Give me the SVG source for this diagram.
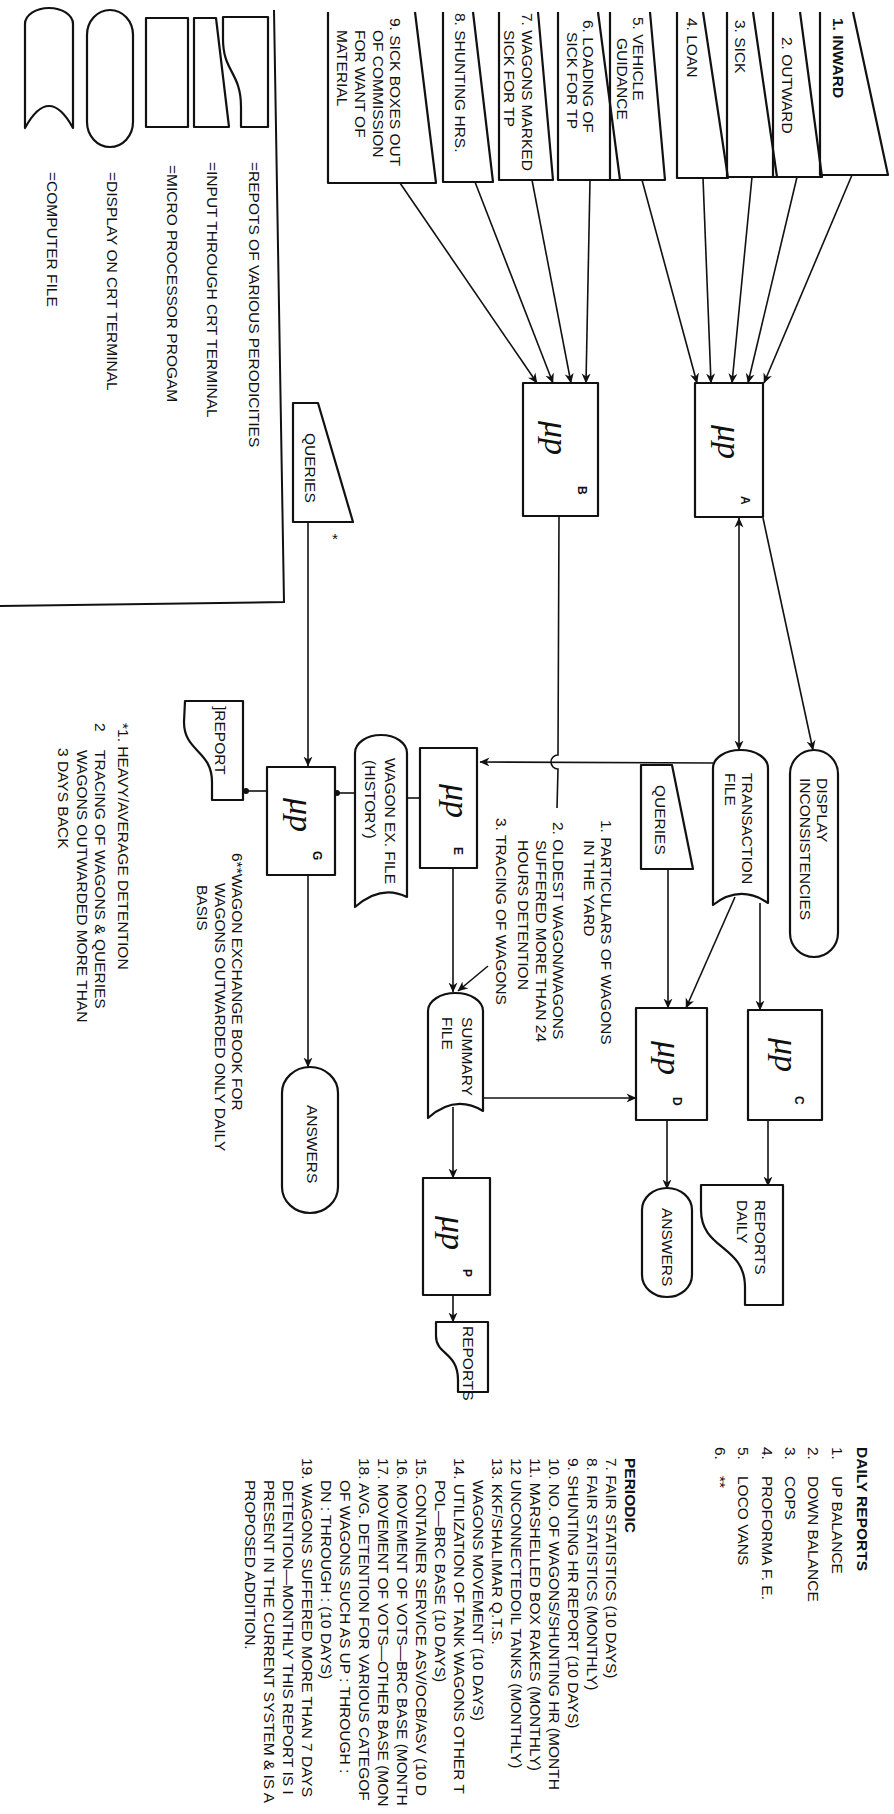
<svg xmlns="http://www.w3.org/2000/svg" width="894" height="1814" viewBox="0 0 894 1814">
<defs>
<style>
.s{fill:#fff;stroke:#111;stroke-width:2.2;stroke-linejoin:round}
.o{fill:none;stroke:#111;stroke-width:2.2;stroke-linejoin:round}
.c{fill:none;stroke:#111;stroke-width:1.6}
.t{font-family:"Liberation Sans",Arial,sans-serif;font-size:15.5px;fill:#111}
.p{font-family:"Liberation Sans",Arial,sans-serif;font-size:15.5px;fill:#111}
.b{font-weight:bold}
.mu{font-family:"Liberation Serif","Times New Roman",serif;font-style:italic;font-size:34px;fill:#111}
.l{font-family:"Liberation Sans",Arial,sans-serif;font-size:12px;font-weight:bold;fill:#111}
</style>
<marker id="ar" viewBox="0 0 10 10" refX="9.5" refY="5" markerWidth="10" markerHeight="10" orient="auto-start-reverse" markerUnits="userSpaceOnUse"><path d="M0,0.5 L10,5 L0,9.5 L3,5 Z" fill="#111"/></marker>
</defs>
<rect width="894" height="1814" fill="#fff"/>

<g id="legend">
<path class="c" d="M274,10 L284,602 L0,606" style="stroke-width:2"/>
<path class="s" d="M223,17 L268,17 L268,127 L241,127 L241,107 C241,72 223,72 223,39 Z"/>
<path class="s" d="M194,18 L216,18 L229,127 L194,127 Z"/>
<rect class="s" x="146" y="18" width="42" height="109"/>
<path class="s" d="M87,35 A23,25 0 0 1 133,35 L133,122 A23,25 0 0 1 87,122 Z"/>
<path class="s" d="M25,128 L25,24 A24,16 0 0 1 73,24 L73,128 Q49,84 25,128 Z"/>
<text class="t" transform="translate(249 162) rotate(90)">=REPOTS OF VARIOUS PERODICITIES</text>
<text class="t" transform="translate(207 162) rotate(90)">=INPUT THROUGH CRT TERMINAL</text>
<text class="t" transform="translate(167 165) rotate(90)">=MICRO PROCESSOR PROGAM</text>
<text class="t" transform="translate(107 172) rotate(90)">=DISPLAY ON CRT TERMINAL</text>
<text class="t" transform="translate(47 172) rotate(90)">=COMPUTER FILE</text>
</g>

<g id="in1"><path class="o" d="M820,12 L820,175 L888,175 L853,12"/><text class="t b" transform="translate(833 18) rotate(90)">1. INWARD</text></g>
<g id="in2"><path class="o" d="M773,12 L773,177 L822,177 L800,12"/><text class="t" transform="translate(782 37) rotate(90)">2. OUTWARD</text></g>
<g id="in3"><path class="o" d="M727,12 L727,177 L777,177 L753,12"/><text class="t" transform="translate(735 20) rotate(90)">3. SICK</text></g>
<g id="in4"><path class="o" d="M677,12 L677,178 L728,178 L703,12"/><text class="t" transform="translate(687 18) rotate(90)">4. LOAN</text></g>
<g id="in5"><path class="o" d="M610,12 L610,180 L665,180 L650,12"/><text class="t" transform="translate(633 17) rotate(90)">5. VEHICLE</text><text class="t" transform="translate(617 38) rotate(90)">GUIDANCE</text></g>
<g id="in6"><path class="o" d="M558,12 L558,180 L620,180 L598,12"/><text class="t" transform="translate(583 20) rotate(90)">6. LOADING OF</text><text class="t" transform="translate(567 32) rotate(90)">SICK FOR TP</text></g>
<g id="in7"><path class="o" d="M499,12 L499,180 L553,180 L538,12"/><text class="t" transform="translate(522 13) rotate(90)">7. WAGONS MARKED</text><text class="t" transform="translate(504 30) rotate(90)">SICK FOR TP</text></g>
<g id="in8"><path class="o" d="M443,12 L443,182 L493,182 L473,12"/><text class="t" transform="translate(455 13) rotate(90)">8. SHUNTING HRS.</text></g>
<g id="in9"><path class="o" d="M328,12 L328,183 L436,183 L415,12"/><text class="t" transform="translate(390 18) rotate(90)">9. SICK BOXES OUT</text><text class="t" transform="translate(373 30) rotate(90)">OF COMMISSION</text><text class="t" transform="translate(355 30) rotate(90)">FOR WANT OF</text><text class="t" transform="translate(337 30) rotate(90)">MATERIAL</text></g>

<g id="connectors">
<line class="c" x1="852" y1="175" x2="764" y2="383" marker-end="url(#ar)"/>
<line class="c" x1="797" y1="177" x2="748" y2="383" marker-end="url(#ar)"/>
<line class="c" x1="752" y1="177" x2="732" y2="383" marker-end="url(#ar)"/>
<line class="c" x1="703" y1="178" x2="711" y2="383" marker-end="url(#ar)"/>
<line class="c" x1="642" y1="180" x2="697" y2="383" marker-end="url(#ar)"/>
<line class="c" x1="590" y1="180" x2="586" y2="383" marker-end="url(#ar)"/>
<line class="c" x1="532" y1="180" x2="571" y2="383" marker-end="url(#ar)"/>
<line class="c" x1="475" y1="182" x2="553" y2="383" marker-end="url(#ar)"/>
<line class="c" x1="400" y1="183" x2="537" y2="383" marker-end="url(#ar)"/>
<line class="c" x1="739" y1="518" x2="739" y2="750" marker-start="url(#ar)" marker-end="url(#ar)"/>
<line class="c" x1="763" y1="518" x2="813" y2="750" marker-end="url(#ar)"/>
<path class="c" d="M713,763 L480,762" marker-end="url(#ar)"/>
<path class="c" d="M559,516 L558,755 A7,7 0 0 0 558,769 L557,808"/>
<line class="c" x1="453" y1="868" x2="453" y2="992" marker-end="url(#ar)"/>
<line class="c" x1="407" y1="798" x2="420" y2="798"/>
<line class="c" x1="336" y1="793" x2="355" y2="793"/>
<circle cx="337" cy="793" r="3" fill="#111"/>
<line class="c" x1="245" y1="791" x2="267" y2="791"/>
<circle cx="246" cy="791" r="3" fill="#111"/>
<line class="c" x1="308" y1="523" x2="308" y2="766" marker-end="url(#ar)"/>
<line class="c" x1="308" y1="875" x2="308" y2="1067" marker-end="url(#ar)"/>
<line class="c" x1="735" y1="897" x2="686" y2="1008" marker-end="url(#ar)"/>
<line class="c" x1="760" y1="903" x2="760" y2="1010" marker-end="url(#ar)"/>
<line class="c" x1="668" y1="869" x2="668" y2="1008" marker-end="url(#ar)"/>
<line class="c" x1="768" y1="1120" x2="768" y2="1186" marker-end="url(#ar)"/>
<line class="c" x1="667" y1="1120" x2="667" y2="1189" marker-end="url(#ar)"/>
<line class="c" x1="483" y1="1098" x2="636" y2="1098" marker-end="url(#ar)"/>
<line class="c" x1="453" y1="1107" x2="453" y2="1178" marker-end="url(#ar)"/>
<line class="c" x1="488" y1="966" x2="458" y2="991" marker-end="url(#ar)"/>
<line class="c" x1="453" y1="1295" x2="453" y2="1322" marker-end="url(#ar)"/>
</g>

<g id="procA"><rect class="s" x="695" y="383" width="68" height="134"/><text class="mu" text-anchor="middle" transform="translate(718 442) rotate(90)">μp</text><text class="l" transform="translate(741 496) rotate(90)">A</text></g>
<g id="procB"><rect class="s" x="523" y="383" width="75" height="133"/><text class="mu" text-anchor="middle" transform="translate(545 438) rotate(90)">μp</text><text class="l" transform="translate(578 486) rotate(90)">B</text></g>
<g id="procC"><rect class="s" x="748" y="1010" width="74" height="110"/><text class="mu" text-anchor="middle" transform="translate(775 1055) rotate(90)">μp</text><text class="l" transform="translate(795 1096) rotate(90)">C</text></g>
<g id="procD"><rect class="s" x="636" y="1008" width="71" height="112"/><text class="mu" text-anchor="middle" transform="translate(658 1058) rotate(90)">μp</text><text class="l" transform="translate(673 1097) rotate(90)">D</text></g>
<g id="procE"><rect class="s" x="420" y="748" width="57" height="120"/><text class="mu" text-anchor="middle" transform="translate(446 801) rotate(90)">μp</text><text class="l" transform="translate(454 847) rotate(90)">E</text></g>
<g id="procG"><rect class="s" x="267" y="767" width="68" height="108"/><text class="mu" text-anchor="middle" transform="translate(290 815) rotate(90)">μp</text><text class="l" transform="translate(313 851) rotate(90)">G</text></g>
<g id="procP"><rect class="s" x="423" y="1178" width="67" height="117"/><text class="mu" text-anchor="middle" transform="translate(442 1233) rotate(90)">μp</text><text class="l" transform="translate(463 1269) rotate(90)">P</text></g>

<g id="transFile"><path class="s" d="M713,905 L713,768 A27.5,18 0 0 1 768,768 L768,903 Q740,884 713,905 Z"/><text class="t" transform="translate(742 773) rotate(90)">TRANSACTION</text><text class="t" transform="translate(725 773) rotate(90)">FILE</text></g>
<g id="displayInc"><path class="s" d="M790,774 A24,24 0 0 1 838,774 L838,933 A24,24 0 0 1 790,933 Z"/><text class="t" transform="translate(817 778) rotate(90)">DISPLAY</text><text class="t" transform="translate(800 778) rotate(90)">INCONSISTENCIES</text></g>
<g id="queriesTF"><path class="s" d="M641,765 L672,765 L693,869 L641,869 Z"/><text class="t" transform="translate(655 785) rotate(90)">QUERIES</text></g>
<g id="queriesG"><path class="s" d="M293,403 L318,403 L353,522 L293,522 Z"/><text class="t" transform="translate(305 433) rotate(90)">QUERIES</text><text class="t" x="332" y="544">*</text></g>
<g id="summaryFile"><path class="s" d="M428,1118 L428,1011 A27.5,18 0 0 1 483,1011 L483,1111 Q455,1094 428,1118 Z"/><text class="t" transform="translate(462 1017) rotate(90)">SUMMARY</text><text class="t" transform="translate(442 1017) rotate(90)">FILE</text></g>
<g id="wagonFile"><path class="s" d="M355,907 L355,753 A26,18 0 0 1 407,753 L407,897 Q381,884 355,907 Z"/><text class="t" transform="translate(385 758) rotate(90)">WAGON EX. FILE</text><text class="t" transform="translate(365 760) rotate(90)">(HISTORY)</text></g>
<g id="reportG"><path class="s" d="M185,701 L243,701 L243,800 L212,800 L212,782 C212,750 184,752 184,722 Z"/><text class="t" transform="translate(215 706) rotate(90)">]REPORT</text></g>
<g id="answersG"><path class="s" d="M282,1093 A28,26 0 0 1 338,1093 L338,1187 A28,26 0 0 1 282,1187 Z"/><text class="t" transform="translate(307 1105) rotate(90)">ANSWERS</text></g>
<g id="answersD"><path class="s" d="M642,1210 A25,22 0 0 1 692,1210 L692,1275 A25,22 0 0 1 642,1275 Z"/><text class="t" transform="translate(662 1208) rotate(90)">ANSWERS</text></g>
<g id="reportsDaily"><path class="s" d="M701,1185 L783,1185 L783,1305 L745,1305 L745,1287 C745,1245 701,1250 701,1210 Z"/><text class="t" transform="translate(755 1200) rotate(90)">REPORTS</text><text class="t" transform="translate(737 1200) rotate(90)">DAILY</text></g>
<g id="reportsP"><path class="s" d="M436,1322 L488,1322 L488,1392 L458,1392 L458,1380 C458,1352 436,1355 436,1336 Z"/><text class="t" transform="translate(463 1326) rotate(90)">REPORTS</text></g>

<g id="notesB">
<text class="t" transform="translate(601 820) rotate(90)">1. PARTICULARS OF WAGONS</text>
<text class="t" transform="translate(584 840) rotate(90)">IN THE YARD</text>
<text class="t" transform="translate(553 822) rotate(90)">2. OLDEST WAGON/WAGONS</text>
<text class="t" transform="translate(536 840) rotate(90)">SUFFERED MORE THAN 24</text>
<text class="t" transform="translate(518 840) rotate(90)">HOURS DETENTION</text>
<text class="t" transform="translate(496 818) rotate(90)">3. TRACING OF WAGONS</text>
</g>
<g id="notesG">
<text class="t" transform="translate(232 853) rotate(90)">6**WAGON EXCHANGE BOOK FOR</text>
<text class="t" transform="translate(215 883) rotate(90)">WAGONS OUTWARDED ONLY DAILY</text>
<text class="t" transform="translate(197 885) rotate(90)">BASIS</text>
<text class="t" transform="translate(118 723) rotate(90)">*1. HEAVY/AVERAGE DETENTION</text>
<text class="t" transform="translate(95 723) rotate(90)">2</text>
<text class="t" transform="translate(95 750) rotate(90)">TRACING OF WAGONS &amp; QUERIES</text>
<text class="t" transform="translate(77 750) rotate(90)">WAGONS OUTWARDED MORE THAN</text>
<text class="t" transform="translate(58 748) rotate(90)">3 DAYS BACK</text>
</g>
<g id="dailyReports">
<text class="t b" transform="translate(857 1447) rotate(90)">DAILY REPORTS</text>
<text class="t" transform="translate(832 1447) rotate(90)">1.</text><text class="t" transform="translate(832 1476) rotate(90)">UP BALANCE</text>
<text class="t" transform="translate(808 1447) rotate(90)">2.</text><text class="t" transform="translate(808 1476) rotate(90)">DOWN BALANCE</text>
<text class="t" transform="translate(785 1447) rotate(90)">3.</text><text class="t" transform="translate(785 1476) rotate(90)">COPS</text>
<text class="t" transform="translate(762 1447) rotate(90)">4.</text><text class="t" transform="translate(762 1476) rotate(90)">PROFORMA F. E.</text>
<text class="t" transform="translate(738 1447) rotate(90)">5.</text><text class="t" transform="translate(738 1476) rotate(90)">LOCO VANS</text>
<text class="t" transform="translate(715 1447) rotate(90)">6.</text><text class="t" transform="translate(715 1476) rotate(90)">**</text>
</g>
<g id="periodic">
<text class="p b" transform="translate(625 1458) rotate(90)">PERIODIC</text>
<text class="p" transform="translate(606 1458) rotate(90)">7.  FAIR STATISTICS (10 DAYS)</text>
<text class="p" transform="translate(587 1458) rotate(90)">8.  FAIR STATISTICS (MONTHLY)</text>
<text class="p" transform="translate(568 1458) rotate(90)">9.  SHUNTING HR REPORT (10 DAYS)</text>
<text class="p" transform="translate(549 1458) rotate(90)">10. NO. OF WAGONS/SHUNTING HR (MONTH</text>
<text class="p" transform="translate(530 1458) rotate(90)">11. MARSHELLED BOX RAKES (MONTHLY)</text>
<text class="p" transform="translate(511 1458) rotate(90)">12  UNCONNECTEDOIL TANKS (MONTHLY)</text>
<text class="p" transform="translate(492 1458) rotate(90)">13. KKF/SHALIMAR Q.T.S.</text>
<text class="p" transform="translate(473 1480) rotate(90)">WAGONS MOVEMENT (10 DAYS)</text>
<text class="p" transform="translate(454 1458) rotate(90)">14. UTILIZATION OF TANK WAGONS OTHER T</text>
<text class="p" transform="translate(435 1480) rotate(90)">POL—BRC BASE (10 DAYS)</text>
<text class="p" transform="translate(416 1458) rotate(90)">15. CONTAINER SERVICE ASV/OCB/ASV (10 D</text>
<text class="p" transform="translate(397 1458) rotate(90)">16. MOVEMENT OF VOTS—BRC BASE (MONTH</text>
<text class="p" transform="translate(378 1458) rotate(90)">17. MOVEMENT OF VOTS—OTHER BASE (MON</text>
<text class="p" transform="translate(359 1458) rotate(90)">18. AVG. DETENTION FOR VARIOUS CATEGOF</text>
<text class="p" transform="translate(340 1480) rotate(90)">OF WAGONS SUCH AS UP : THROUGH :</text>
<text class="p" transform="translate(321 1480) rotate(90)">DN : THROUGH : (10 DAYS)</text>
<text class="p" transform="translate(302 1458) rotate(90)">19. WAGONS SUFFERED MORE THAN 7 DAYS</text>
<text class="p" transform="translate(283 1480) rotate(90)">DETENTION—MONTHLY THIS REPORT IS I</text>
<text class="p" transform="translate(264 1480) rotate(90)">PRESENT IN THE CURRENT SYSTEM &amp; IS A</text>
<text class="p" transform="translate(245 1480) rotate(90)">PROPOSED ADDITION.</text>
</g>
</svg>
